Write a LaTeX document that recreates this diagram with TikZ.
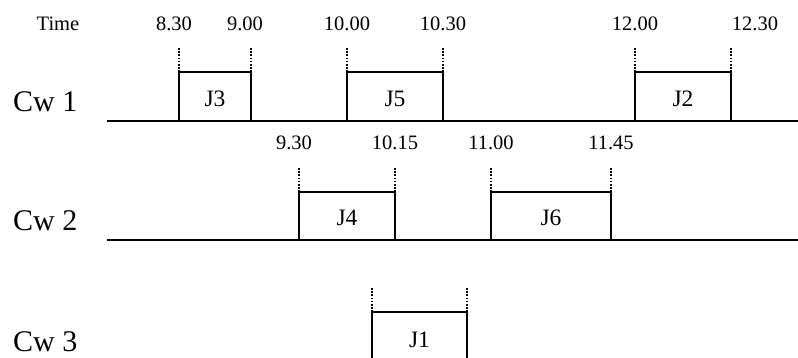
\documentclass[tikz,border=0pt]{standalone}
\usepackage{fontspec}
\setmainfont{Liberation Serif}
\begin{document}
\begin{tikzpicture}[x=1pt,y=-1pt,
  axis/.style={line width=2.8pt},
  jobbox/.style={line width=2.8pt, line join=miter},
  guide/.style={line width=2pt, dash pattern=on 1.6pt off 1.6pt},
  tlabel/.style={font=\fontsize{20.5}{20.5}\selectfont, anchor=base, inner sep=0pt},
  jlabel/.style={font=\fontsize{23.5}{23.5}\selectfont, anchor=base, inner sep=0pt},
  cwlabel/.style={font=\fontsize{30}{30}\selectfont, anchor=base west, inner sep=0pt}]
\useasboundingbox (0,0) rectangle (798,358);
% Row 1
\coordinate (a1s) at (107,121); \coordinate (a1e) at (800,121);
\draw[axis] (a1s) -- (a1e);
\node[cwlabel] (cw1) at (13,112) {Cw 1};
\node[tlabel] (time) at (58,31) {Time};
\foreach \xa/\xb/\lx/\ly/\lbl/\nm/\ja/\jb in {179/251/174/245/J3/j3/8.30/9.00, 347/443/347/443/J5/j5/10.00/10.30, 635/731/635/755/J2/j2/12.00/12.30}{
  \draw[jobbox] (\xa,121) -- (\xa,72) -- (\xb,72) -- (\xb,121);
  \draw[guide] (\xa,72) -- (\xa,47);
  \draw[guide] (\xb,72) -- (\xb,47);
  \node[jlabel] (\nm) at ({(\xa+\xb)/2},107) {\lbl};
  \node[tlabel] (\nm a) at (\lx,31) {\ja};
  \node[tlabel] (\nm b) at (\ly,31) {\jb};
}
% Row 2
\coordinate (a2s) at (107,240); \coordinate (a2e) at (800,240);
\draw[axis] (a2s) -- (a2e);
\node[cwlabel] (cw2) at (13,231) {Cw 2};
\foreach \xa/\xb/\lx/\ly/\lbl/\nm/\ja/\jb in {299/395/294/395/J4/j4/9.30/10.15, 491/611/491/611/J6/j6/11.00/11.45}{
  \draw[jobbox] (\xa,240) -- (\xa,192) -- (\xb,192) -- (\xb,240);
  \draw[guide] (\xa,192) -- (\xa,167);
  \draw[guide] (\xb,192) -- (\xb,167);
  \node[jlabel] (\nm) at ({(\xa+\xb)/2},226) {\lbl};
  \node[tlabel] (\nm a) at (\lx,150) {\ja};
  \node[tlabel] (\nm b) at (\ly,150) {\jb};
}
% Row 3
\node[cwlabel] (cw3) at (13,351) {Cw 3};
\draw[jobbox] (372,365) -- (372,312) -- (467,312) -- (467,365);
\draw[guide] (372,312) -- (372,287);
\draw[guide] (467,312) -- (467,287);
\node[jlabel] (j1) at (419.5,347) {J1};
\end{tikzpicture}
\end{document}
